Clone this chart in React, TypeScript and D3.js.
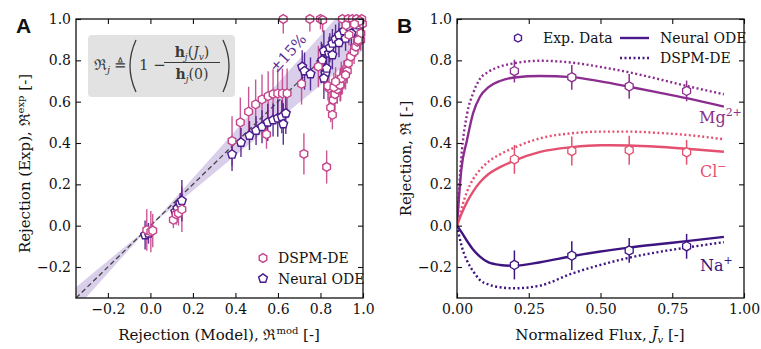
import React, { useEffect, useRef } from 'react';
import * as d3 from 'd3';

// ---------------- panel A data : [model, exp, err] ----------------
const dspmModel = [-0.017, 0.002, 0.011, 0.108, 0.121, 0.132, 0.148,
  0.384, 0.423, 0.462, 0.495, 0.525, 0.554, 0.577, 0.599, 0.621, 0.643, 0.546,
  0.625, 0.75, 0.80, 0.81, 0.711, 0.79, 0.722, 0.829,
  0.848, 0.856, 0.86, 0.868, 0.879, 0.84, 0.895, 0.903, 0.91, 0.926, 0.931, 0.942, 0.958, 0.966, 0.974, 0.989, 0.99,
  0.835, 0.863, 0.892, 0.898, 0.918, 0.871,
  0.903, 0.93, 0.95, 0.97, 0.994, 0.997, 0.985, 0.92, 0.96, 0.934, 0.977];
const dspmExp = [-0.021, -0.029, -0.024, 0.028, 0.055, 0.06, 0.079,
  0.41, 0.50, 0.552, 0.587, 0.611, 0.627, 0.637, 0.64, 0.64, 0.64, 0.442,
  1.0, 1.0, 1.0, 0.995, 0.686, 0.77, 0.347, 0.284,
  0.571, 0.536, 0.608, 0.636, 0.66, 0.665, 0.684, 0.705, 0.729, 0.748, 0.786, 0.818, 0.842, 0.866, 0.89, 0.898, 0.93,
  0.676, 0.67, 0.681, 0.713, 0.729, 0.697,
  1.0, 1.0, 1.0, 1.0, 1.0, 0.976, 0.99, 0.97, 0.975, 0.923, 0.898];
const dspmErr = [0.1, 0.1, 0.08, 0.04, 0.05, 0.06, 0.11,
  0.12, 0.12, 0.12, 0.12, 0.12, 0.12, 0.12, 0.12, 0.12, 0.12, 0.07,
  0.07, 0.06, 0.05, 0.06, 0.1, 0.1, 0.1, 0.08,
  0.07, 0.07, 0.07, 0.08, 0.07, 0.08, 0.08, 0.07, 0.07, 0.06, 0.06, 0.06, 0.06, 0.05, 0.05, 0.05, 0.05,
  0.07, 0.07, 0.08, 0.08, 0.07, 0.07,
  0.05, 0.05, 0.05, 0.04, 0.04, 0.04, 0.04, 0.06, 0.05, 0.05, 0.05];

const nodeModel = [-0.025, -0.009, 0.117, 0.127, 0.14, 0.148,
  0.384, 0.426, 0.466, 0.497, 0.525, 0.552, 0.577, 0.599, 0.618, 0.625, 0.637,
  0.714, 0.725, 0.753, 0.804, 0.816, 0.808, 0.824, 0.816, 0.829, 0.84, 0.844, 0.856, 0.856,
  0.871, 0.887, 0.887, 0.91, 0.918, 0.934, 0.958, 0.97, 0.945, 0.98];
const nodeExp = [-0.045, -0.037, 0.068, 0.084, 0.108, 0.121,
  0.345, 0.402, 0.436, 0.46, 0.479, 0.50, 0.511, 0.52, 0.527, 0.492, 0.544,
  0.769, 0.748, 0.734, 0.79, 0.845, 0.80, 0.737, 0.713, 0.761, 0.834, 0.861, 0.826, 0.882,
  0.903, 0.885, 0.923, 0.942, 0.906, 0.963, 0.984, 0.94, 0.93, 0.97];
const nodeErr = [0.07, 0.05, 0.04, 0.04, 0.05, 0.1,
  0.08, 0.07, 0.07, 0.07, 0.08, 0.09, 0.08, 0.09, 0.08, 0.1, 0.1,
  0.08, 0.09, 0.08, 0.1, 0.1, 0.08, 0.08, 0.1, 0.1, 0.08, 0.07, 0.07, 0.07,
  0.07, 0.07, 0.06, 0.06, 0.06, 0.05, 0.05, 0.05, 0.06, 0.05];

// ---------------- panel B data ----------------
const flux = [0, 0.015, 0.035, 0.056, 0.08, 0.11, 0.15, 0.2, 0.29, 0.4, 0.5, 0.6, 0.7, 0.8, 0.93];
const mgNode = [0, 0.27, 0.415, 0.544, 0.624, 0.67, 0.70, 0.717, 0.724, 0.719, 0.698, 0.672, 0.645, 0.617, 0.576];
const mgDspm = [0, 0.33, 0.54, 0.64, 0.71, 0.745, 0.77, 0.786, 0.798, 0.789, 0.768, 0.742, 0.71, 0.676, 0.636];
const clNode = [0, 0.055, 0.115, 0.165, 0.21, 0.25, 0.283, 0.315, 0.357, 0.38, 0.389, 0.388, 0.382, 0.372, 0.358];
const clDspm = [0, 0.08, 0.165, 0.225, 0.27, 0.31, 0.345, 0.378, 0.423, 0.447, 0.455, 0.455, 0.449, 0.439, 0.418];
const naNode = [0, -0.03, -0.074, -0.115, -0.15, -0.178, -0.19, -0.194, -0.177, -0.148, -0.125, -0.106, -0.09, -0.075, -0.054];
const naDspm = [0, -0.093, -0.17, -0.22, -0.263, -0.285, -0.298, -0.303, -0.29, -0.232, -0.19, -0.155, -0.128, -0.106, -0.08];

const expFlux = [0.2, 0.4, 0.6, 0.8];
const mgExp = [0.748, 0.718, 0.674, 0.652];
const mgExpErr = [0.055, 0.06, 0.06, 0.05];
const clExp = [0.321, 0.361, 0.365, 0.355];
const clExpErr = [0.07, 0.07, 0.07, 0.06];
const naExp = [-0.19, -0.145, -0.12, -0.1];
const naExpErr = [0.07, 0.07, 0.06, 0.06];

const ticksA = [-0.2, 0, 0.2, 0.4, 0.6, 0.8, 1.0];
const ticksBx = [0, 0.25, 0.5, 0.75, 1.0];

const PINK = '#c4448b';
const PURPLE = '#4a1a8c';
const MG = '#8b2d8e';
const CL = '#e4506f';
const NA = '#3e1580';
const FONT = 'DejaVu Serif';

// regular polygon, pointy top
const polygon = (n, r) => {
  const pts = d3.range(n).map(i => {
    const a = -Math.PI / 2 + i * 2 * Math.PI / n;
    return [r * Math.cos(a), r * Math.sin(a)];
  });
  return 'M' + pts.map(p => p.join(',')).join('L') + 'Z';
};

export default function App() {
  const ref = useRef();
  const width = 761;
  const height = 349;

  useEffect(() => {
    const svg = d3.select(ref.current);
    svg.selectAll('*').remove();

    const top = 19, bottom = 298;
    const xA = d3.scaleLinear().domain([-0.35, 1]).range([76, 363]);
    const yA = d3.scaleLinear().domain([-0.35, 1]).range([bottom, top]);
    const xB = d3.scaleLinear().domain([0, 1]).range([457, 744]);
    const yB = d3.scaleLinear().domain([-0.35, 1]).range([bottom, top]);

    const defs = svg.append('defs');
    defs.append('clipPath').attr('id', 'clipA').append('rect')
      .attr('x', 76).attr('y', top).attr('width', 287).attr('height', bottom - top);
    defs.append('clipPath').attr('id', 'clipB').append('rect')
      .attr('x', 457).attr('y', top).attr('width', 287).attr('height', bottom - top);

    // ---------- axes helper ----------
    const drawAxes = (x, y, xt, yt, fmtX) => {
      const g = svg.append('g');
      g.append('g').attr('transform', `translate(0,${bottom})`)
        .call(d3.axisBottom(x).tickValues(xt).tickFormat(fmtX).tickSize(-5).tickPadding(6));
      g.append('g').attr('transform', `translate(0,${top})`)
        .call(d3.axisTop(x).tickValues(xt).tickFormat('').tickSize(-5));
      g.append('g').attr('transform', `translate(${x.range()[0]},0)`)
        .call(d3.axisLeft(y).tickValues(yt).tickFormat(d3.format('.1f')).tickSize(-5).tickPadding(5));
      g.append('g').attr('transform', `translate(${x.range()[1]},0)`)
        .call(d3.axisRight(y).tickValues(yt).tickFormat('').tickSize(-5));
      g.selectAll('.domain').remove();
      g.selectAll('.tick line').attr('stroke', '#111').attr('stroke-width', 1.1);
      g.selectAll('.tick text').attr('font-family', FONT).attr('font-size', 14).attr('fill', '#111');
      g.append('rect').attr('x', x.range()[0]).attr('y', top)
        .attr('width', x.range()[1] - x.range()[0]).attr('height', bottom - top)
        .attr('fill', 'none').attr('stroke', '#111').attr('stroke-width', 1.3);
    };

    // ================= PANEL A =================
    const band = d3.area()
      .x(d => xA(d))
      .y0(d => yA(Math.min(0.85 * d, 1.15 * d)))
      .y1(d => yA(Math.max(0.85 * d, 1.15 * d)));
    svg.append('path').datum([-0.35, 0, 1]).attr('d', band)
      .attr('fill', '#b9a7d8').attr('opacity', 0.55).attr('clip-path', 'url(#clipA)');
    svg.append('line')
      .attr('x1', xA(-0.35)).attr('y1', yA(-0.35)).attr('x2', xA(1)).attr('y2', yA(1))
      .attr('stroke', '#444').attr('stroke-width', 1.3).attr('stroke-dasharray', '5,3');

    const errA = svg.append('g').attr('clip-path', 'url(#clipA)');
    errA.selectAll('.eb-d').data(dspmModel).join('line')
      .attr('x1', d => xA(d)).attr('x2', d => xA(d))
      .attr('y1', (d, i) => yA(dspmExp[i] - dspmErr[i]))
      .attr('y2', (d, i) => yA(dspmExp[i] + dspmErr[i]))
      .attr('stroke', PINK).attr('stroke-width', 1.4).attr('opacity', 0.9);
    errA.selectAll('.eb-n').data(nodeModel).join('line')
      .attr('x1', d => xA(d)).attr('x2', d => xA(d))
      .attr('y1', (d, i) => yA(nodeExp[i] - nodeErr[i]))
      .attr('y2', (d, i) => yA(nodeExp[i] + nodeErr[i]))
      .attr('stroke', PURPLE).attr('stroke-width', 1.4).attr('opacity', 0.9);

    svg.append('g').selectAll('path').data(nodeModel).join('path')
      .attr('d', polygon(5, 4.6))
      .attr('transform', (d, i) => `translate(${xA(d)},${yA(nodeExp[i])})`)
      .attr('fill', 'white').attr('stroke', PURPLE).attr('stroke-width', 1.4);
    svg.append('g').selectAll('path').data(dspmModel).join('path')
      .attr('d', polygon(6, 4.4))
      .attr('transform', (d, i) => `translate(${xA(d)},${yA(dspmExp[i])})`)
      .attr('fill', 'white').attr('stroke', PINK).attr('stroke-width', 1.4);

    drawAxes(xA, yA, ticksA, ticksA, d3.format('.1f'));

    // formula box
    svg.append('rect').attr('x', 88).attr('y', 35).attr('width', 147).attr('height', 62)
      .attr('rx', 4).attr('fill', '#e2e2e2');
    const f = svg.append('g').attr('font-family', FONT).attr('fill', '#3a3a3a');
    const t1 = f.append('text').attr('x', 94).attr('y', 70).attr('font-size', 15);
    t1.append('tspan').text('ℜ');
    t1.append('tspan').text('j').attr('font-style', 'italic').attr('font-size', 10).attr('dy', 3);
    f.append('text').attr('x', 114).attr('y', 70).attr('font-size', 15).text('≜');
    f.append('path').attr('d', 'M136,40 Q124,66 136,92').attr('fill', 'none').attr('stroke', '#3a3a3a').attr('stroke-width', 1.3);
    f.append('path').attr('d', 'M223,40 Q235,66 223,92').attr('fill', 'none').attr('stroke', '#3a3a3a').attr('stroke-width', 1.3);
    f.append('text').attr('x', 139).attr('y', 70).attr('font-size', 15).text('1 −');
    const num = f.append('text').attr('x', 192).attr('y', 57).attr('font-size', 14).attr('text-anchor', 'middle');
    num.append('tspan').text('h').attr('font-weight', 'bold');
    num.append('tspan').text('j').attr('font-style', 'italic').attr('font-size', 9).attr('dy', 3);
    num.append('tspan').text('(').attr('dy', -3);
    num.append('tspan').text('J').attr('font-style', 'italic');
    num.append('tspan').text('v').attr('font-style', 'italic').attr('font-size', 9).attr('dy', 3);
    num.append('tspan').text(')').attr('dy', -3);
    f.append('line').attr('x1', 164).attr('x2', 220).attr('y1', 62.5).attr('y2', 62.5).attr('stroke', '#3a3a3a').attr('stroke-width', 1);
    const den = f.append('text').attr('x', 192).attr('y', 79).attr('font-size', 14).attr('text-anchor', 'middle');
    den.append('tspan').text('h').attr('font-weight', 'bold');
    den.append('tspan').text('j').attr('font-style', 'italic').attr('font-size', 9).attr('dy', 3);
    den.append('tspan').text('(0)').attr('dy', -3);

    // ±15% label
    svg.append('text').attr('transform', 'translate(289,54) rotate(-48)')
      .attr('text-anchor', 'middle').attr('dominant-baseline', 'middle')
      .attr('font-family', FONT).attr('font-size', 15).attr('fill', '#5a2a92').text('±15%');

    // legend A
    const legA = svg.append('g').attr('font-family', FONT).attr('font-size', 14).attr('fill', '#111');
    legA.append('path').attr('d', polygon(6, 4.4)).attr('transform', 'translate(263,258)')
      .attr('fill', 'white').attr('stroke', PINK).attr('stroke-width', 1.4);
    legA.append('text').attr('x', 278).attr('y', 263).text('DSPM-DE');
    legA.append('path').attr('d', polygon(5, 4.6)).attr('transform', 'translate(263,278.5)')
      .attr('fill', 'white').attr('stroke', PURPLE).attr('stroke-width', 1.4);
    legA.append('text').attr('x', 278).attr('y', 283.5).text('Neural ODE');

    // axis labels A
    const xlA = svg.append('text').attr('x', 219).attr('y', 340).attr('text-anchor', 'middle')
      .attr('font-family', FONT).attr('font-size', 15).attr('fill', '#111');
    xlA.append('tspan').text('Rejection (Model), ℜ');
    xlA.append('tspan').text('mod').attr('font-size', 10).attr('dy', -6);
    xlA.append('tspan').text(' [-]').attr('dy', 6);
    const ylA = svg.append('text').attr('transform', `translate(30,${(top + bottom) / 2 + 5}) rotate(-90)`)
      .attr('text-anchor', 'middle').attr('font-family', FONT).attr('font-size', 15).attr('fill', '#111');
    ylA.append('tspan').text('Rejection (Exp), ℜ');
    ylA.append('tspan').text('exp').attr('font-size', 10).attr('dy', -6);
    ylA.append('tspan').text(' [-]').attr('dy', 6);

    svg.append('text').attr('x', 16).attr('y', 33).attr('font-family', 'Liberation Sans')
      .attr('font-weight', 'bold').attr('font-size', 21).attr('fill', '#111').text('A');

    // ================= PANEL B =================
    const line = (vals) => d3.line().x((d, i) => xB(flux[i])).y((d, i) => yB(vals[i])).curve(d3.curveMonotoneX)(vals);
    const curves = [
      { v: mgDspm, c: MG, dot: true }, { v: clDspm, c: CL, dot: true }, { v: naDspm, c: NA, dot: true },
      { v: mgNode, c: MG, dot: false }, { v: clNode, c: CL, dot: false }, { v: naNode, c: NA, dot: false },
    ];
    const gc = svg.append('g').attr('clip-path', 'url(#clipB)');
    curves.forEach(cv => {
      gc.append('path').attr('d', line(cv.v)).attr('fill', 'none').attr('stroke', cv.c)
        .attr('stroke-width', 2.4).attr('stroke-dasharray', cv.dot ? '2,2.5' : null);
    });

    const series = [
      { y: mgExp, e: mgExpErr, c: MG }, { y: clExp, e: clExpErr, c: CL }, { y: naExp, e: naExpErr, c: NA },
    ];
    series.forEach(s => {
      svg.append('g').selectAll('line').data(expFlux).join('line')
        .attr('x1', d => xB(d)).attr('x2', d => xB(d))
        .attr('y1', (d, i) => yB(s.y[i] - s.e[i])).attr('y2', (d, i) => yB(s.y[i] + s.e[i]))
        .attr('stroke', s.c).attr('stroke-width', 1.5);
      svg.append('g').selectAll('path').data(expFlux).join('path')
        .attr('d', polygon(6, 4.6))
        .attr('transform', (d, i) => `translate(${xB(d)},${yB(s.y[i])})`)
        .attr('fill', 'white').attr('stroke', s.c).attr('stroke-width', 1.3);
    });

    drawAxes(xB, yB, ticksBx, ticksA, d3.format('.2f'));

    // ion labels
    const ion = (label, sup, x, y, c) => {
      const t = svg.append('text').attr('x', x).attr('y', y).attr('font-family', FONT)
        .attr('font-size', 16).attr('fill', c);
      t.append('tspan').text(label);
      t.append('tspan').text(sup).attr('font-size', 11).attr('dy', -7);
    };
    ion('Mg', '2+', 699, 123, MG);
    ion('Cl', '−', 700, 177, CL);
    ion('Na', '+', 700, 271, NA);

    // legend B
    const legB = svg.append('g').attr('font-family', FONT).attr('font-size', 14).attr('fill', '#111');
    legB.append('path').attr('d', polygon(6, 4)).attr('transform', 'translate(518,38)')
      .attr('fill', 'white').attr('stroke', PURPLE).attr('stroke-width', 1.4);
    legB.append('text').attr('x', 543).attr('y', 43).text('Exp. Data');
    legB.append('line').attr('x1', 620).attr('x2', 649).attr('y1', 38).attr('y2', 38)
      .attr('stroke', PURPLE).attr('stroke-width', 2.4);
    legB.append('text').attr('x', 660).attr('y', 43).text('Neural ODE');
    legB.append('line').attr('x1', 620).attr('x2', 649).attr('y1', 58).attr('y2', 58)
      .attr('stroke', PURPLE).attr('stroke-width', 2.4).attr('stroke-dasharray', '2,2.5');
    legB.append('text').attr('x', 660).attr('y', 63).text('DSPM-DE');

    // axis labels B
    const xlB = svg.append('text').attr('x', 600).attr('y', 340).attr('text-anchor', 'middle')
      .attr('font-family', FONT).attr('font-size', 15).attr('fill', '#111');
    xlB.append('tspan').text('Normalized Flux, ');
    xlB.append('tspan').text('J̄').attr('font-style', 'italic');
    xlB.append('tspan').text('v').attr('font-style', 'italic').attr('font-size', 10).attr('dy', 3);
    xlB.append('tspan').text(' [-]').attr('dy', -3);
    svg.append('text').attr('transform', `translate(411,${(top + bottom) / 2}) rotate(-90)`)
      .attr('text-anchor', 'middle').attr('font-family', FONT).attr('font-size', 15).attr('fill', '#111')
      .text('Rejection, ℜ [-]');

    svg.append('text').attr('x', 397).attr('y', 33).attr('font-family', 'Liberation Sans')
      .attr('font-weight', 'bold').attr('font-size', 21).attr('fill', '#111').text('B');
  }, []);

  return (
    <svg ref={ref} width={width} height={height}
      style={{ position: 'absolute', left: 0, top: 0, background: 'white' }} />
  );
}
